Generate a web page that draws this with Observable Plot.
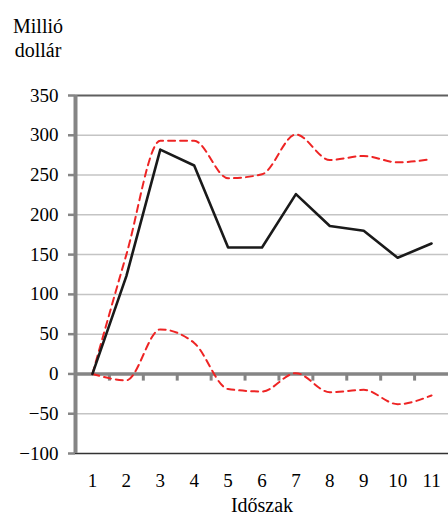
<!DOCTYPE html>
<html>
<head>
<meta charset="utf-8">
<script src="https://cdn.jsdelivr.net/npm/d3@7"></script>
<script src="https://cdn.jsdelivr.net/npm/@observablehq/plot@0.6"></script>
<style>
  html, body { margin: 0; padding: 0; background: #fff; font-family: 'Times New Roman', 'Liberation Serif', Times, serif; }
  #wrap { position: relative; width: 448px; height: 519px; }
  #chart svg { display: block; }
  #chart svg text { font-family: 'Times New Roman', 'Liberation Serif', Times, serif !important; }
  #ylab { position: absolute; left: 0; top: 14px; width: 76px; text-align: center;
          font-family: 'Times New Roman', 'Liberation Serif', Times, serif; font-size: 20px; line-height: 24px; color: #000; }
</style>
</head>
<body>
<div id="wrap">
  <div id="chart"></div>
  <div id="ylab"></div>
</div>
<script>
const periods = [1, 2, 3, 4, 5, 6, 7, 8, 9, 10, 11];
const central = [0, 123, 282, 262, 159, 159, 226, 186, 180, 146, 164];
const upper   = [0, 150, 293, 293, 246, 251, 301, 269, 274, 266, 270];
const lower   = [0, -8, 56, 39, -19, -22, 1, -23, -20, -38, -27];
const yTicks  = [-100, -50, 0, 50, 100, 150, 200, 250, 300, 350];
const yLabel  = ["Millió", "dollár"];
const xLabel  = "Időszak";

document.getElementById("ylab").innerHTML = yLabel.join("<br>");

const rows = (vals) => periods.map((p, i) => ({p, v: vals[i]}));
const bounds = periods.slice(0, -1).map(p => p + 0.5);
const FF = "'Times New Roman', 'Liberation Serif', Times, serif";

const chart = Plot.plot({
  width: 448,
  height: 519,
  marginTop: 95,
  marginLeft: 75,
  marginRight: 0,
  marginBottom: 66,
  style: {fontFamily: FF, fontSize: "19px", color: "#000", background: "#fff"},
  x: {domain: [0.5, 11.5]},
  y: {domain: [-100, 350]},
  marks: [
    Plot.ruleY(yTicks.filter(t => t > -100 && t < 350 && t !== 0), {stroke: "#c4c4c4", strokeWidth: 1.5}),
    Plot.ruleY([350], {stroke: "#5f5f5f", strokeWidth: 2}),
    Plot.ruleY([-100], {stroke: "#333", strokeWidth: 1.5}),
    Plot.ruleY([0], {stroke: "#858585", strokeWidth: 3.5}),
    Plot.ruleX(bounds, {y1: 0, y2: -9, stroke: "#858585", strokeWidth: 3}),
    Plot.ruleX([0.5], {y1: -100, y2: 350, stroke: "#858585", strokeWidth: 4}),
    Plot.axisY({ticks: yTicks, tickSize: 7, tickPadding: 10, stroke: "#858585", strokeWidth: 2.5, label: null, fontSize: 19, fontFamily: FF, fill: "#000"}),
    Plot.axisX({ticks: periods, tickSize: 0, tickPadding: 20, label: null, fontSize: 19, fontFamily: FF, fill: "#000"}),
    Plot.line(rows(upper), {x: "p", y: "v", stroke: "#ee2424", strokeWidth: 2, strokeDasharray: "7,5", curve: "monotone-x"}),
    Plot.line(rows(lower), {x: "p", y: "v", stroke: "#ee2424", strokeWidth: 2, strokeDasharray: "7,5", curve: "monotone-x"}),
    Plot.line(rows(central), {x: "p", y: "v", stroke: "#1a1a1a", strokeWidth: 2.6}),
    Plot.text([xLabel], {frameAnchor: "bottom", dy: 58, fontSize: 20, fontFamily: FF, fill: "#000"})
  ]
});
document.getElementById("chart").appendChild(chart);
</script>
</body>
</html>
